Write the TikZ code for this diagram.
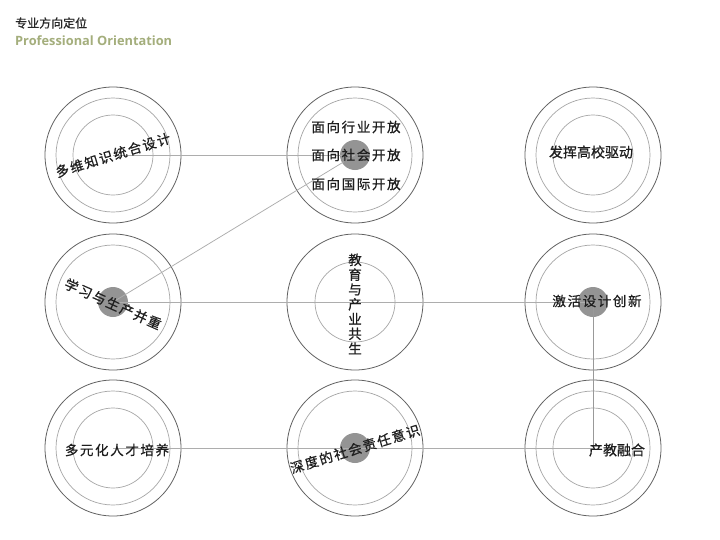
\documentclass[tikz,border=0pt]{standalone}
\usepackage{fontspec}
\setmainfont{Noto Sans}
\newfontfamily\cjk{Noto Sans CJK SC}[FakeBold=0.7]
\newfontfamily\cjksp{Noto Sans CJK SC}[LetterSpace=12,FakeBold=0.7]
\newfontfamily\titlesans{Open Sans}
\definecolor{olive}{HTML}{A4AE7C}
\definecolor{ink}{HTML}{1E1E1E}
\begin{document}
\begin{tikzpicture}[x=1pt,y=-1pt,
  outer/.style={draw=black!62, line width=0.8pt},
  ring/.style={draw=black!35, line width=0.7pt},
  link/.style={draw=black!32, line width=0.75pt},
  disk/.style={circle, fill=black!42, minimum size=30pt, inner sep=0pt},
  lbl/.style={font=\cjksp\fontsize{13.5}{16}\selectfont, text=ink, inner sep=0pt}]
\useasboundingbox (0,0) rectangle (720,539);
\fill[white] (0,0) rectangle (720,539);

% title
\node[anchor=west, inner sep=0pt, font=\cjk\fontsize{12}{14}\selectfont, text=black!85] (t1) at (15,23) {专业方向定位};
\node[anchor=west, inner sep=0pt, font=\titlesans\bfseries\fontsize{12.8}{15}\selectfont, text=olive] (t2) at (15,40.5) {Professional Orientation};

% centres
\coordinate (c11) at (113,155);
\coordinate (c12) at (355,155);
\coordinate (c13) at (593,155);
\coordinate (c21) at (113,302);
\coordinate (c22) at (355,302);
\coordinate (c23) at (593,302);
\coordinate (c31) at (113,448);
\coordinate (c32) at (355,448);
\coordinate (c33) at (593,448);

% outer circles
\foreach \c in {c11,c12,c13,c21,c22,c23,c31,c32,c33}
  \draw[outer] (\c) circle[radius=68];
% middle rings
\foreach \c in {c11,c12,c13,c21,c23,c31,c32,c33}
  \draw[ring] (\c) circle[radius=57];
% inner rings
\foreach \c in {c11,c13,c22,c31,c33}
  \draw[ring] (\c) circle[radius=40];

% disks
\node[disk] (d12) at (c12) {};
\node[disk] (d21) at (c21) {};
\node[disk] (d23) at (c23) {};
\node[disk] (d32) at (c32) {};

% connectors
\draw[link] (c11) -- (d12.center);
\draw[link] (d21.center) -- (d12.center);
\draw[link] (d21.center) -- (d23.center);
\draw[link, draw=black!40] (d23.center) -- (c33);
\draw[link] (c31) -- (c33);

% labels
\node[lbl, rotate=17] (l11) at (113,155) {多维知识统合设计};
\node[lbl] (l12a) at (356,127) {面向行业开放};
\node[lbl] (l12b) at (356,155) {面向社会开放};
\node[lbl] (l12c) at (356,184) {面向国际开放};
\node[lbl, font=\cjk\fontsize{14}{16}\selectfont] (l13) at (591,152) {发挥高校驱动};
\node[lbl, rotate=-24] (l21) at (113,304) {学习与生产并重};
\node[lbl, align=center, font=\cjk\fontsize{13.5}{14.8}\selectfont] (l22) at (355,304) {教\\育\\与\\产\\业\\共\\生};
\node[lbl] (l23) at (597,301) {激活设计创新};
\node[lbl] (l31) at (117,450) {多元化人才培养};
\node[lbl, rotate=17] (l32) at (355,449) {深度的社会责任意识};
\node[lbl, font=\cjk\fontsize{14}{16}\selectfont] (l33) at (617,450) {产教融合};
\end{tikzpicture}
\end{document}
